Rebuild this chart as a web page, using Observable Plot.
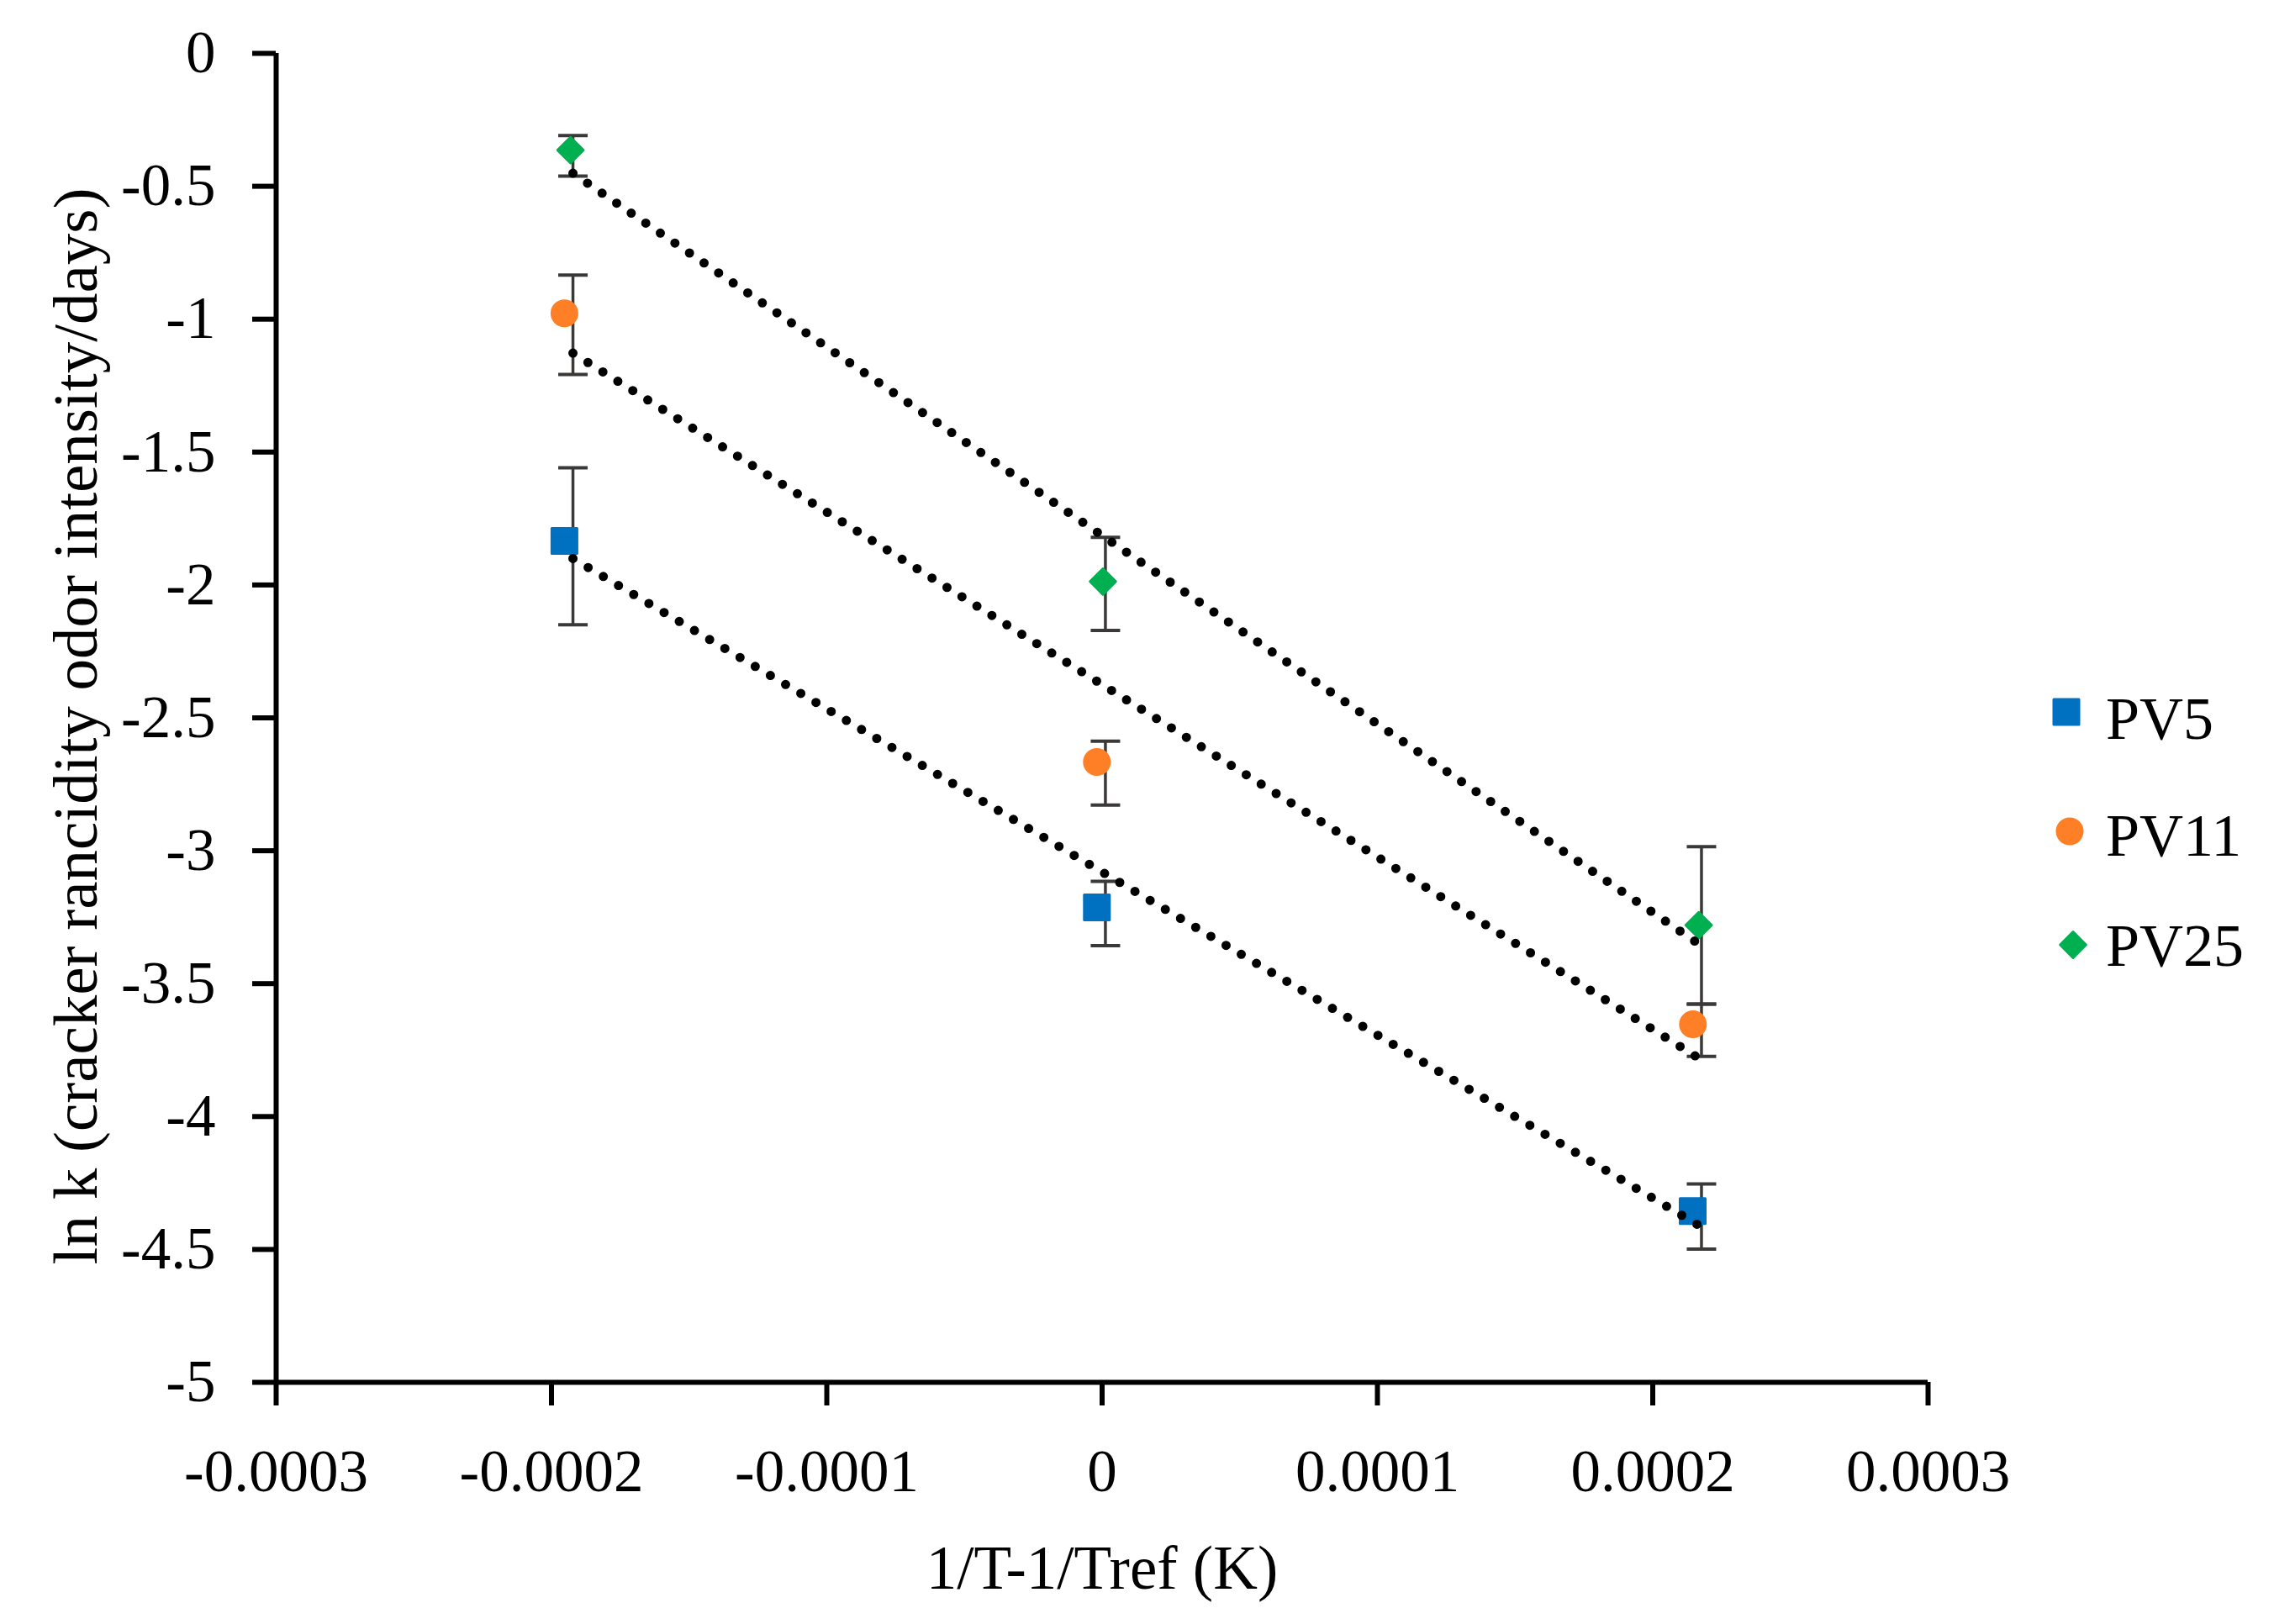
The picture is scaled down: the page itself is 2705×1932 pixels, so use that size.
<!DOCTYPE html>
<html>
<head>
<meta charset="utf-8">
<script src="https://cdn.jsdelivr.net/npm/d3@7"></script>
<script src="https://cdn.jsdelivr.net/npm/@observablehq/plot@0.6"></script>
<style>
html, body { margin: 0; padding: 0; background: #fff; }
#wrap { position: relative; width: 2705px; height: 1932px; }
#legend { position: absolute; left: 2420px; top: 780px; }
</style>
</head>
<body>
<div id="wrap"></div>
<script>
// ---- data ----
const series = ["PV5", "PV11", "PV25"];
const colors = ["#0070C0", "#FF7F27", "#00B050"];
const symbolNames = ["square", "circle", "diamond2"];

// x positions of the error bars / trend-line points (shared by all series)
const barX = [-0.0001922, 0.0000012, 0.0002177];

const pv5X  = [-0.0001953, -0.0000019, 0.0002145];
const pv5Y  = [-1.834, -3.213, -4.356];
const pv5Lo = [-2.150, -3.357, -4.499];
const pv5Hi = [-1.559, -3.115, -4.254];

const pv11X  = [-0.0001953, -0.0000019, 0.0002146];
const pv11Y  = [-0.978, -2.666, -3.653];
const pv11Lo = [-1.208, -2.828, -3.774];
const pv11Hi = [-0.834, -2.588, -3.577];

const pv25X  = [-0.0001931, 0.0000003, 0.0002167];
const pv25Y  = [-0.364, -1.987, -3.280];
const pv25Lo = [-0.462, -2.171, -3.577];
const pv25Hi = [-0.309, -1.821, -2.985];

const xTicks = [-0.0003, -0.0002, -0.0001, 0, 0.0001, 0.0002, 0.0003];
const yTicks = [0, -0.5, -1, -1.5, -2, -2.5, -3, -3.5, -4, -4.5, -5];

const xTitle = "1/T-1/Tref (K)";
const yTitle = "ln k (cracker rancidity odor intensity/days)";

// ---- build rows ----
const markerX = [pv5X, pv11X, pv25X];
const markerY = [pv5Y, pv11Y, pv25Y];
const lows = [pv5Lo, pv11Lo, pv25Lo];
const highs = [pv5Hi, pv11Hi, pv25Hi];
const rows = [];
series.forEach((s, i) => {
  barX.forEach((bx, j) => {
    rows.push({series: s, x: markerX[i][j], y: markerY[i][j], bx, lo: lows[i][j], hi: highs[i][j]});
  });
});

// ---- styling ----
const FONT = "'Liberation Serif', 'Times New Roman', serif";
const errColor = "#3B3838";
const markerR = [16.93, 15, 13.8];
const capSymbol = { draw(context) { context.moveTo(-17.5, 0); context.lineTo(17.5, 0); } };

const marks = [
  Plot.ruleX([xTicks[0]], {stroke: "black", strokeWidth: 6}),
  Plot.ruleY([yTicks[yTicks.length - 1]], {stroke: "black", strokeWidth: 6}),
  Plot.axisX({ticks: xTicks, tickFormat: d => String(d), tickSize: 28, tickPadding: 51, strokeWidth: 6, fontSize: 71, label: null}),
  Plot.axisY({ticks: yTicks, tickFormat: d => String(d), tickSize: 28, tickPadding: 44, strokeWidth: 6, fontSize: 71, label: null}),
  Plot.ruleX(rows, {x: "bx", y1: "lo", y2: "hi", stroke: errColor, strokeWidth: 3.5}),
  Plot.dot(rows, {x: "bx", y: "lo", symbol: capSymbol, r: 10, fill: "none", stroke: errColor, strokeWidth: 4}),
  Plot.dot(rows, {x: "bx", y: "hi", symbol: capSymbol, r: 10, fill: "none", stroke: errColor, strokeWidth: 4})
];
series.forEach((s, i) => {
  const d = rows.filter(r => r.series === s);
  marks.push(Plot.dot(d, {x: "x", y: "y", symbol: symbolNames[i], r: markerR[i], fill: colors[i], stroke: colors[i], strokeWidth: 3, strokeLinejoin: "round"}));
});
series.forEach((s, i) => {
  const d = rows.filter(r => r.series === s);
  marks.push(Plot.linearRegressionY(d, {x: "bx", y: "y", stroke: "black", strokeWidth: 11, strokeDasharray: "0 21", strokeLinecap: "round", ci: 0}));
});
marks.push(Plot.text([yTitle], {text: d => d, frameAnchor: "left", textAnchor: "middle", lineAnchor: "middle", rotate: -90, dx: -238, dy: 10, fontSize: 75}));
marks.push(Plot.text([xTitle], {text: d => d, frameAnchor: "bottom", textAnchor: "middle", lineAnchor: "middle", dy: 222, fontSize: 73}));

const chart = Plot.plot({
  width: 2705,
  height: 1932,
  marginLeft: 328,
  marginRight: 412,
  marginTop: 63,
  marginBottom: 288,
  x: {domain: [xTicks[0], xTicks[xTicks.length - 1]]},
  y: {domain: [yTicks[yTicks.length - 1], yTicks[0]]},
  style: {fontFamily: FONT, fontSize: "70px", background: "white", color: "black", overflow: "visible"},
  marks
});
document.getElementById("wrap").appendChild(chart);

// ---- legend (right side) ----
const lg = d3.select("#wrap").append("svg").attr("id", "legend").attr("width", 285).attr("height", 420);
const legSym = [d3.symbolSquare, d3.symbolCircle, d3.symbolDiamond2];
const legSize = [900, 707, 600];
const legSymX = [38, 42, 46];
const legSymY = [67, 209, 344];
const legTextY = [99, 238, 369];
series.forEach((s, i) => {
  lg.append("path")
    .attr("d", d3.symbol(legSym[i], legSize[i])())
    .attr("transform", `translate(${legSymX[i]},${legSymY[i]})`)
    .attr("fill", colors[i]).attr("stroke", colors[i]).attr("stroke-width", 3).attr("stroke-linejoin", "round");
  lg.append("text")
    .attr("x", 85).attr("y", legTextY[i])
    .attr("font-family", FONT).attr("font-size", 72).attr("fill", "black")
    .text(s);
});
</script>
</body>
</html>
